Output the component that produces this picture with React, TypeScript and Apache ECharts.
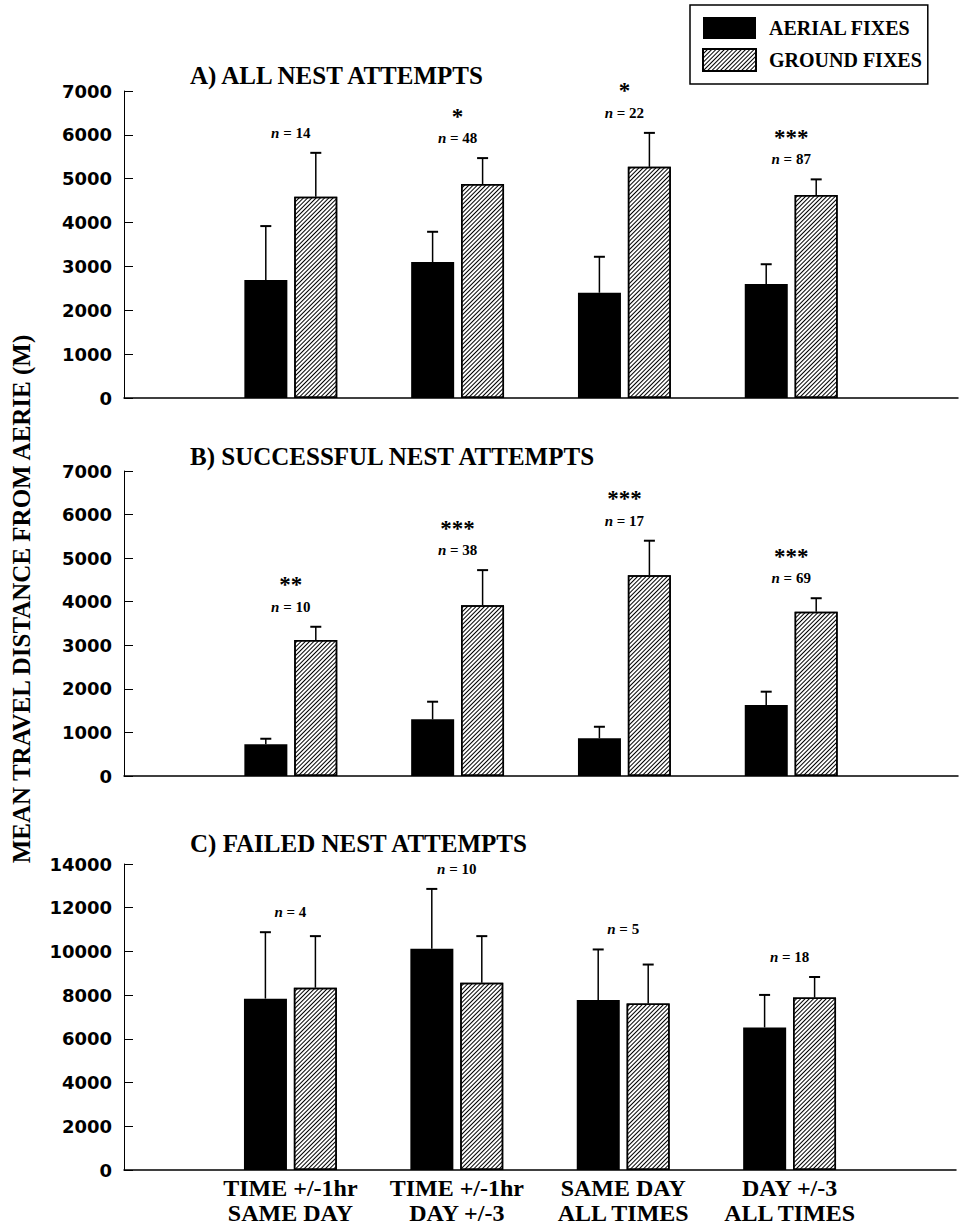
import React, { useEffect, useRef } from 'react';
import * as echarts from 'echarts';

const categories = ['TIME +/-1hr\nSAME DAY', 'TIME +/-1hr\nDAY +/-3', 'SAME DAY\nALL TIMES', 'DAY +/-3\nALL TIMES'];
const seriesNames = ['AERIAL FIXES', 'GROUND FIXES'];
const panelTitles = ['A) ALL NEST ATTEMPTS', 'B) SUCCESSFUL NEST ATTEMPTS', 'C) FAILED NEST ATTEMPTS'];
const yAxisTitle = 'MEAN TRAVEL DISTANCE FROM AERIE (M)';

// Panel A: all nest attempts
const aerialA = [2690, 3100, 2400, 2600];
const aerialSeA = [1230, 690, 820, 450];
const groundA = [4590, 4880, 5270, 4630];
const groundSeA = [1000, 590, 775, 355];
const nA = [14, 48, 22, 87];
const sigA = ['', '*', '*', '***'];

// Panel B: successful nest attempts
const aerialB = [730, 1300, 865, 1630];
const aerialSeB = [125, 405, 265, 305];
const groundB = [3120, 3920, 4610, 3770];
const groundSeB = [305, 805, 790, 310];
const nB = [10, 38, 17, 69];
const sigB = ['**', '***', '***', '***'];

// Panel C: failed nest attempts
const aerialC = [7840, 10120, 7780, 6520];
const aerialSeC = [3040, 2740, 2310, 1490];
const groundC = [8340, 8570, 7620, 7890];
const groundSeC = [2360, 2130, 1780, 940];
const nC = [4, 10, 5, 18];
const sigC = ['', '', '', ''];

const yMaxes = [7000, 7000, 14000];
const yIntervals = [1000, 1000, 2000];

const panels = [
  { aerial: aerialA, aerialSe: aerialSeA, ground: groundA, groundSe: groundSeA, n: nA, sig: sigA },
  { aerial: aerialB, aerialSe: aerialSeB, ground: groundB, groundSe: groundSeB, n: nB, sig: sigB },
  { aerial: aerialC, aerialSe: aerialSeC, ground: groundC, groundSe: groundSeC, n: nC, sig: sigC },
];

const SERIF = '"Liberation Serif", "Times New Roman", serif';
const SANS = '"DejaVu Sans", sans-serif';

const hatch = {
  symbol: 'rect',
  symbolSize: 1,
  dashArrayX: [1, 0],
  dashArrayY: [1, 1.6],
  rotation: -Math.PI / 4,
  color: '#000',
};

export default function App() {
  const ref = useRef<HTMLDivElement>(null);

  useEffect(() => {
    if (!ref.current) return;
    const chart = echarts.init(ref.current, undefined, { renderer: 'svg' });

    const grids = [
      { left: 124, right: 1, top: 91, height: 307 },
      { left: 124, right: 1, top: 471, height: 305 },
      { left: 124, right: 1, top: 864, height: 307 },
    ];

    const xAxes = grids.map((_, i) => ({
      type: 'category',
      gridIndex: i,
      data: ['', ...categories, ''],
      boundaryGap: false,
      axisLine: { show: true, lineStyle: { color: '#000', width: 1.5 } },
      axisTick: { show: false },
      axisLabel: {
        show: i === 2,
        interval: 0,
        color: '#000',
        fontFamily: SERIF,
        fontWeight: 'bold',
        fontSize: 24,
        lineHeight: 25,
        margin: 5,
      },
      splitLine: { show: false },
    }));

    const yAxes = grids.map((_, i) => ({
      type: 'value',
      gridIndex: i,
      min: 0,
      max: yMaxes[i],
      interval: yIntervals[i],
      axisLine: { show: true, lineStyle: { color: '#000', width: 1 } },
      axisTick: { show: true, inside: true, length: 9, lineStyle: { color: '#000', width: 1 } },
      axisLabel: {
        color: '#000',
        fontFamily: SANS,
        fontWeight: 'bold',
        fontSize: 18,
        margin: 12,
        formatter: (v: number) => String(v),
      },
      splitLine: { show: false },
    }));

    const series: any[] = [];
    panels.forEach((p, i) => {
      series.push({
        type: 'bar',
        name: seriesNames[0],
        xAxisIndex: i,
        yAxisIndex: i,
        data: p.aerial.map((v, k) => [k + 1, v]),
        barWidth: 43,
        barGap: '16%',
        itemStyle: { color: '#000' },
      });
      series.push({
        type: 'bar',
        name: seriesNames[1],
        xAxisIndex: i,
        yAxisIndex: i,
        data: p.ground.map((v, k) => [k + 1, v]),
        barWidth: 43,
        barGap: '16%',
        itemStyle: { color: '#fff', borderColor: '#000', borderWidth: 1.5, decal: hatch },
      });
      series.push({
        type: 'custom',
        xAxisIndex: i,
        yAxisIndex: i,
        data: p.aerial.map((v, k) => [k + 1, Math.max(v + p.aerialSe[k], p.ground[k] + p.groundSe[k])]),
        encode: { x: 0, y: 1 },
        z: 5,
        renderItem: (params: any, api: any) => {
          const k = params.dataIndex;
          const aBase = api.coord([k + 1, p.aerial[k]]);
          const aTop = api.coord([k + 1, p.aerial[k] + p.aerialSe[k]]);
          const gBase = api.coord([k + 1, p.ground[k]]);
          const gTop = api.coord([k + 1, p.ground[k] + p.groundSe[k]]);
          const cx = aBase[0];
          const ax = cx - 25;
          const gx = cx + 25;
          const ls = { stroke: '#000', lineWidth: 1.5 };
          const cs = { stroke: '#000', lineWidth: 2 };
          const children: any[] = [
            { type: 'line', shape: { x1: ax, y1: aBase[1], x2: ax, y2: aTop[1] }, style: ls },
            { type: 'line', shape: { x1: ax - 5.5, y1: aTop[1], x2: ax + 5.5, y2: aTop[1] }, style: cs },
            { type: 'line', shape: { x1: gx, y1: gBase[1], x2: gx, y2: gTop[1] }, style: ls },
            { type: 'line', shape: { x1: gx - 5.5, y1: gTop[1], x2: gx + 5.5, y2: gTop[1] }, style: cs },
          ];
          const nY = Math.min(aTop[1], gTop[1]) - 20;
          children.push({
            type: 'text',
            x: cx,
            y: nY,
            style: {
              text: '{i|n} = ' + p.n[k],
              fill: '#000',
              fontFamily: SERIF,
              fontWeight: 'bold',
              fontSize: 15,
              align: 'center',
              verticalAlign: 'middle',
              rich: { i: { fontStyle: 'italic', fontWeight: 'bold', fontFamily: SERIF, fontSize: 15, fill: '#000' } },
            },
          });
          if (p.sig[k]) {
            children.push({
              type: 'text',
              x: cx,
              y: nY - 26 + 4,
              style: {
                text: p.sig[k],
                fill: '#000',
                fontFamily: SERIF,
                fontWeight: 'bold',
                fontSize: 23,
                align: 'center',
                verticalAlign: 'middle',
              },
            });
          }
          return { type: 'group', children };
        },
      });
    });

    const titleYs = [75, 456, 843];
    const graphic: any[] = panelTitles.map((t, i) => ({
      type: 'text',
      x: 190,
      y: titleYs[i],
      style: {
        text: t,
        fill: '#000',
        fontFamily: SERIF,
        fontWeight: 'bold',
        fontSize: 25,
        verticalAlign: 'middle',
        align: 'left',
      },
    }));
    graphic.push({
      type: 'text',
      x: 21,
      y: 599,
      rotation: Math.PI / 2,
      style: {
        text: yAxisTitle,
        fill: '#000',
        fontFamily: SERIF,
        fontWeight: 'bold',
        fontSize: 25,
        align: 'center',
        verticalAlign: 'middle',
      },
    });

    chart.setOption({
      animation: false,
      backgroundColor: '#fff',
      grid: grids,
      xAxis: xAxes,
      yAxis: yAxes,
      legend: {
        data: seriesNames,
        orient: 'vertical',
        left: 690,
        top: 5,
        itemWidth: 53,
        itemHeight: 22,
        itemGap: 9,
        padding: [12, 6, 12, 12],
        borderColor: '#000',
        borderWidth: 1.5,
        selectedMode: false,
        icon: 'rect',
        textStyle: { color: '#000', fontFamily: SERIF, fontWeight: 'bold', fontSize: 20, padding: [0, 0, 0, 8] },
      },
      graphic,
      series,
    });

    return () => chart.dispose();
  }, []);

  return <div ref={ref} style={{ position: 'absolute', left: 0, top: 0, width: 959, height: 1225 }} />;
}
